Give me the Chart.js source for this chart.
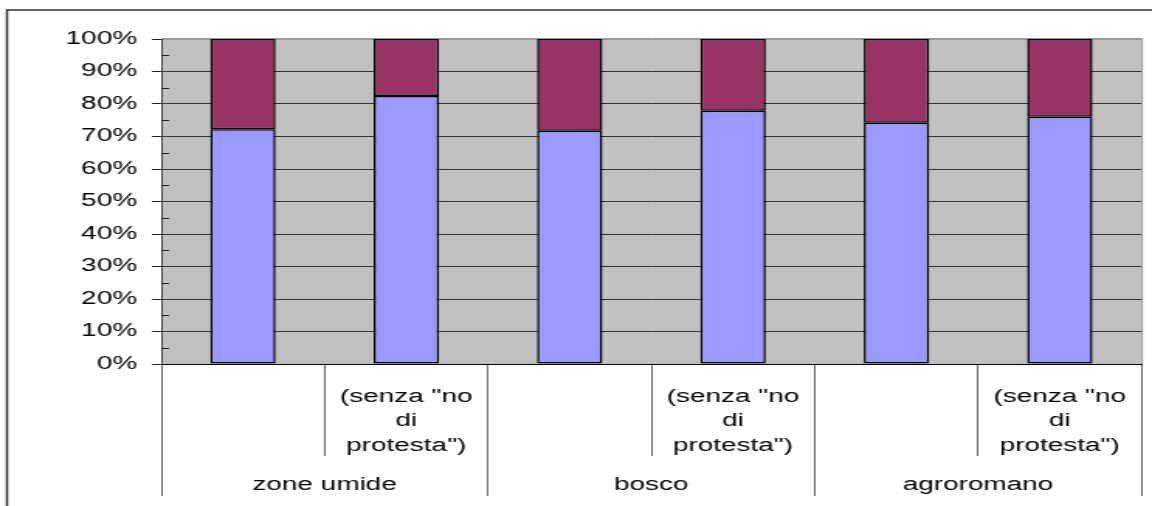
<!DOCTYPE html>
<html>
<head>
<meta charset="utf-8">
<script src="https://cdn.jsdelivr.net/npm/chart.js@4/dist/chart.umd.min.js"></script>
<style>
    html, body { margin: 0; padding: 0; background: #ffffff; overflow: hidden; }
</style>
</head>
<body>
<!-- drawn narrow and stretched wide, like the original sheet export -->
<canvas id="chart" width="743" height="506" style="display:block;width:1152px;height:506px"></canvas>
<script>
// Categories: one bar per entry, grouped in pairs by area
const subLabels = ['', ['(senza "no', 'di', 'protesta")'], '', ['(senza "no', 'di', 'protesta")'], '', ['(senza "no', 'di', 'protesta")']];
const groupLabels = ['zone umide', 'bosco', 'agroromano'];

// Shares in percent (lower and upper part of each bar)
const lowerShare = [72.2, 82.5, 71.8, 77.9, 74.2, 76.1];
const upperShare = [27.8, 17.5, 28.2, 22.1, 25.8, 23.9];

const yTickStep = 10;
const yMinorStep = 5;

const FONT = { family: '"Liberation Sans", Arial, sans-serif', size: 18, lineHeight: 1.37 };

// Grey plot background plus plot border and outer frame
const plotFrame = {
    id: 'plotFrame',
    beforeDraw(chart) {
        const ctx = chart.ctx;
        const a = chart.chartArea;
        ctx.save();
        ctx.fillStyle = '#C0C0C0';
        ctx.fillRect(a.left, a.top, a.right - a.left, a.bottom - a.top);
        ctx.strokeStyle = '#999999';
        ctx.lineWidth = 1;
        ctx.beginPath();
        ctx.moveTo(a.left, a.top - 0.5);
        ctx.lineTo(a.right + 0.5, a.top - 0.5);
        ctx.lineTo(a.right + 0.5, a.bottom);
        ctx.stroke();
        // outer frame (only left and top edges fall inside the canvas)
        ctx.strokeStyle = '#333333';
        ctx.lineWidth = 1.5;
        ctx.strokeRect(4.5, 10, 900, 700);
        ctx.restore();
    },
    afterDraw(chart) {
        // minor ticks on the value axis, pointing into the plot
        const y = chart.scales.y;
        const ctx = chart.ctx;
        const left = chart.chartArea.left;
        ctx.save();
        ctx.strokeStyle = '#222222';
        ctx.lineWidth = 1;
        ctx.beginPath();
        for (let v = yMinorStep; v < 100; v += yTickStep) {
            const py = Math.round(y.getPixelForValue(v)) + 0.5;
            ctx.moveTo(left, py);
            ctx.lineTo(left + 5.2, py);
        }
        ctx.stroke();
        ctx.restore();
    }
};

new Chart(document.getElementById('chart'), {
    type: 'bar',
    data: {
        labels: subLabels,
        datasets: [
            {
                data: lowerShare,
                backgroundColor: '#9999FF',
                borderColor: '#000000',
                borderWidth: 1.5,
                borderSkipped: false
            },
            {
                data: upperShare,
                backgroundColor: '#993366',
                borderColor: '#000000',
                borderWidth: 1.5,
                borderSkipped: false
            }
        ]
    },
    options: {
        responsive: false,
        animation: false,
        events: [],
        layout: { padding: { left: 0, right: 6.8, top: 39, bottom: 0 } },
        datasets: { bar: { categoryPercentage: 1, barPercentage: 0.4 } },
        plugins: {
            legend: { display: false },
            tooltip: { enabled: false },
            title: { display: false }
        },
        scales: {
            x: {
                stacked: true,
                offset: true,
                weight: 0,
                afterFit: function (scale) { scale.height = 92; },
                grid: {
                    offset: true,
                    drawOnChartArea: false,
                    drawTicks: true,
                    tickLength: 92,
                    color: '#666666',
                    lineWidth: 1
                },
                border: { display: true, color: '#000000', width: 1 },
                ticks: {
                    font: FONT,
                    color: '#000000',
                    autoSkip: false,
                    maxRotation: 0,
                    minRotation: 0,
                    padding: -71.5
                }
            },
            x2: {
                type: 'category',
                labels: groupLabels,
                position: 'bottom',
                offset: true,
                weight: 1,
                afterFit: function (scale) { scale.height = 50; },
                grid: {
                    offset: true,
                    drawOnChartArea: false,
                    drawTicks: true,
                    tickLength: 40,
                    color: '#666666',
                    lineWidth: 1
                },
                border: { display: false },
                ticks: {
                    font: FONT,
                    color: '#000000',
                    autoSkip: false,
                    maxRotation: 0,
                    minRotation: 0,
                    padding: -23
                }
            },
            y: {
                stacked: true,
                min: 0,
                max: 100,
                afterFit: function (scale) { scale.width = 104; },
                grid: {
                    color: function (ctx) { return ctx.tick && ctx.tick.value === 100 ? '#999999' : '#333333'; },
                    tickColor: '#222222',
                    tickLength: 6,
                    lineWidth: 1
                },
                border: { display: true, color: '#444444', width: 1 },
                ticks: {
                    stepSize: yTickStep,
                    font: FONT,
                    color: '#000000',
                    padding: 9.6,
                    callback: function (value) { return value + '%'; }
                }
            }
        }
    },
    plugins: [plotFrame]
});
</script>
</body>
</html>
